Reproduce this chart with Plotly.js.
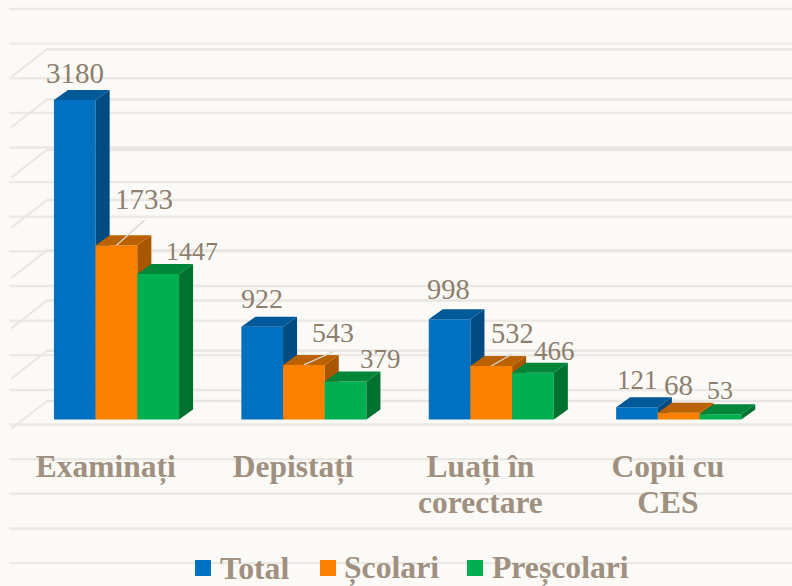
<!DOCTYPE html>
<html><head><meta charset="utf-8">
<script src="https://cdn.plot.ly/plotly-3.0.1.min.js"></script>
<style>html,body{margin:0;padding:0;background:#fbfaf7}#c{width:792px;height:586px}</style>
</head><body><div id="c"></div>
<script>
const categories = ["Examinați", "Depistați", "Luați în corectare", "Copii cu CES"];
const categoryLine1 = ["Examinați", "Depistați", "Luați în", "Copii cu"];
const categoryLine2 = ["", "", "corectare", "CES"];
const seriesNames = ["Total", "Școlari", "Preșcolari"];
const total = [3180, 922, 998, 121];
const scolari = [1733, 543, 532, 68];
const prescolari = [1447, 379, 466, 53];
const gridValues = [0, 500, 1000, 1500, 2000, 2500, 3000, 3500];

const seriesValues = [total, scolari, prescolari];
const frontColors = ["#0070c0", "#fb8000", "#00b050"];
const sideColors = ["#004b82", "#a85600", "#00722f"];
const topColors = ["#005a9a", "#bb6200", "#008539"];

const W = 792, H = 586, plotH = 436;
const pxPerGroup = 187.4, firstCenter = 116.5, barPx = 41.7;
const baseY = 419.5, pxPerUnit = 0.1005;
const depthX = 14 / pxPerGroup, depthV = 10 / pxPerUnit, barW = barPx / pxPerGroup;
const xRange = [-firstCenter / pxPerGroup, (W - firstCenter) / pxPerGroup];
const yRange = [(baseY - plotH) / pxPerUnit, baseY / pxPerUnit];
const py = y => 1 - y / plotH, pxf = x => x / W;

const traces = [];
const idx = categories.map((_, i) => i);
seriesValues.forEach((vals, k) => {
  const sfx = k === 0 ? "" : String(k + 1);
  const off = (k - 1.5) * barW;
  traces.push({type: "bar", name: seriesNames[k], x: idx, y: vals, width: barW, offset: off,
    marker: {color: frontColors[k], line: {width: 0}}, xaxis: "x" + sfx, yaxis: "y" + sfx, showlegend: false, hoverinfo: "y+name"});
  const sx = [], sy = [], tx = [], ty = [];
  vals.forEach((v, i) => {
    const l = i + off, r = l + barW;
    sx.push(r, r + depthX, r + depthX, r, r, null);
    sy.push(0, depthV, v + depthV, v, 0, null);
    tx.push(l, r, r + depthX, l + depthX, l, null);
    ty.push(v, v, v + depthV, v + depthV, v, null);
  });
  [[sx, sy, sideColors[k]], [tx, ty, topColors[k]]].forEach(p => traces.push({
    type: "scatter", mode: "lines", x: p[0], y: p[1], fill: "toself", fillcolor: p[2],
    line: {width: 0, color: p[2]}, xaxis: "x" + sfx, yaxis: "y" + sfx, showlegend: false, hoverinfo: "skip"}));
});

const shapes = [];
const stripeColor = "#ece9e4";
for (let i = 0; i < 17; i++) {
  const y = 9 + i * 34.63;
  shapes.push({type: "line", xref: "paper", yref: "paper", x0: pxf(9), x1: 1, y0: py(y), y1: py(y), layer: "below", line: {color: stripeColor, width: 2.4}});
}
gridValues.forEach(v => {
  const y = baseY - 18.5 - v * pxPerUnit;
  shapes.push({type: "line", xref: "paper", yref: "paper", x0: pxf(47), x1: 1, y0: py(y), y1: py(y), layer: "below", line: {color: "#e9e6e1", width: 2.4}});
  shapes.push({type: "line", xref: "paper", yref: "paper", x0: pxf(47), x1: pxf(11), y0: py(y), y1: py(y + 28), layer: "below", line: {color: "#e9e6e1", width: 2}});
});

const labelColor = "#8d7e6e";
const labelFont = "Liberation Serif";
const labelDx = [[0, 27, 34], [0, 29, 35], [-1, 21, 21], [0, 0, 0]];
const labelDy = [[27, 46, 23], [28, 32, 22], [30, 33, 22], [27, 28, 24]];
const labelSize = [[29, 29, 26], [28, 28, 27], [28.5, 28.5, 27], [27, 29, 26]];
const annotations = [];
seriesValues.forEach((vals, k) => vals.forEach((v, i) => {
  annotations.push({x: i + (k - 1) * barW, y: v, xref: "x", yref: "y", text: String(v), showarrow: false,
    xshift: labelDx[i][k], yshift: labelDy[i][k], xanchor: "center", yanchor: "middle",
    font: {family: labelFont, size: labelSize[i][k], color: labelColor}});
}));
// leader lines of the Școlari labels
[[0, 28, 25], [1, 29, 13], [2, 21, 12]].forEach(([i, dx, dy]) => {
  const v = scolari[i];
  shapes.push({type: "line", xref: "x", yref: "y", x0: i, y0: v, x1: i + dx / pxPerGroup, y1: v + dy / pxPerUnit, layer: "above", line: {color: "#d6d2cc", width: 1.3}});
});
// legend
const legendX = [195, 320, 467], legendTextX = [218, 342, 490];
seriesNames.forEach((n, k) => {
  shapes.push({type: "rect", xref: "paper", yref: "paper", x0: pxf(legendX[k]), x1: pxf(legendX[k] + 16), y0: py(560), y1: py(576), fillcolor: frontColors[k], line: {width: 0}, layer: "above"});
  annotations.push({xref: "paper", yref: "paper", x: pxf(legendTextX[k]), y: py(568), xanchor: "left", yanchor: "middle", showarrow: false,
    text: "<b>" + n + "</b>", font: {family: labelFont, size: 31.7, color: "#a09080"}});
});

const tickFont = {family: labelFont, size: 31.5, color: "#a09080"};
const tickAxis = (lines, len, extra) => Object.assign({range: xRange, tickmode: "array", tickvals: idx.map(i => i - 0.058),
  ticktext: lines.map(c => c ? "<b>" + c + "</b>" : " "), tickangle: 0, ticklen: len, tickcolor: "rgba(0,0,0,0)",
  showgrid: false, zeroline: false, showline: false, fixedrange: true, tickfont: tickFont}, extra);
const hiddenAxis = (r, over) => ({range: r, overlaying: over, visible: false, fixedrange: true, showgrid: false, zeroline: false});
const layout = {
  width: W, height: H, margin: {l: 0, r: 0, t: 0, b: H - plotH, pad: 0}, autosize: false,
  paper_bgcolor: "#fbfaf7", plot_bgcolor: "rgba(0,0,0,0)", showlegend: false,
  xaxis: tickAxis(categoryLine1, 2, {}),
  yaxis: {range: yRange, visible: false, fixedrange: true, showgrid: false, zeroline: false},
  xaxis2: tickAxis(categoryLine2, 38, {overlaying: "x"}), yaxis2: hiddenAxis(yRange, "y"),
  xaxis3: hiddenAxis(xRange, "x"), yaxis3: hiddenAxis(yRange, "y"),
  shapes: shapes, annotations: annotations
};
Plotly.newPlot("c", traces, layout, {displayModeBar: false, staticPlot: true});
</script></body></html>
